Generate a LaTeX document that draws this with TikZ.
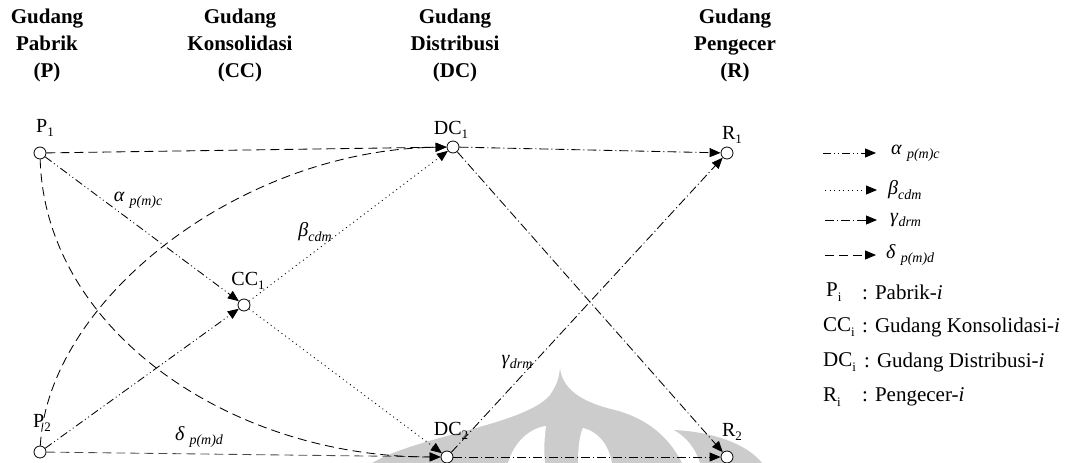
\documentclass[tikz,border=0pt]{standalone}
\usepackage{fontspec}
\setmainfont{Liberation Serif}
\usetikzlibrary{arrows.meta}

% lowered italic index used in the flow symbols
\newcommand{\flowidx}[1]{\raisebox{-0.45ex}{\fontsize{14}{14}\selectfont\itshape #1}}
% lowered upright index used in the site names
\newcommand{\siteidx}[1]{\raisebox{-0.45ex}{\fontsize{13}{13}\selectfont #1}}

\begin{document}
\begin{tikzpicture}[x=1pt,y=-1pt,
  site/.style={circle, draw, line width=0.8pt, minimum size=12pt, inner sep=0pt, fill=white},
  head/.style={font=\fontsize{21}{27}\selectfont\bfseries, align=center},
  sitename/.style={font=\fontsize{20}{22}\selectfont, inner sep=0pt},
  flowlabel/.style={font=\fontsize{20}{22}\selectfont, inner sep=0pt},
  keytext/.style={font=\fontsize{21}{24}\selectfont, inner sep=0pt, anchor=west},
  flow/.style={line width=0.85pt, -{Triangle[length=11pt,width=9pt]}},
  alphaflow/.style={flow, dash pattern=on 8pt off 3pt on 1pt off 3pt on 1pt off 3pt},
  betaflow/.style={flow, dash pattern=on 1pt off 3.5pt},
  gammaflow/.style={flow, dash pattern=on 9pt off 3pt on 1pt off 3pt},
  deltaflow/.style={flow, dash pattern=on 9pt off 5pt}]

\useasboundingbox (0,0) rectangle (1071,463);

% faint emblem in the background
\fill[black!20] (372,463) .. controls (420,435) and (525,425) .. (550,395)
  .. controls (557,385) and (559,378) .. (560,368)
  .. controls (562,388) and (580,402) .. (615,410)
  .. controls (645,418) and (668,435) .. (682,463) -- cycle;
\fill[black!20] (674,430) .. controls (715,432) and (748,445) .. (762,463)
  -- (700,463) .. controls (696,450) and (688,438) .. (674,430) -- cycle;
\fill[white] (508,463) .. controls (514,442) and (530,428) .. (546,426)
  .. controls (544,440) and (544,452) .. (545,463) -- cycle;
\fill[white] (578,463) .. controls (578,446) and (580,434) .. (583,428)
  .. controls (596,431) and (608,442) .. (612,463) -- cycle;

% column headings
\node[head] (hP)  at (47,45)  {Gudang\\Pabrik\\(P)};
\node[head] (hCC) at (240,45) {Gudang\\Konsolidasi\\(CC)};
\node[head] (hDC) at (455,45) {Gudang\\Distribusi\\(DC)};
\node[head] (hR)  at (735,45) {Gudang\\Pengecer\\(R)};

% sites
\node[site] (P1)  at (40,153)  {};
\node[site] (P2)  at (40,452)  {};
\node[site] (CC1) at (244,305) {};
\node[site] (DC1) at (453,147) {};
\node[site] (DC2) at (447,457) {};
\node[site] (R1)  at (727,153) {};
\node[site] (R2)  at (727,457) {};

\node[sitename] (P1n)  at (45,128)  {P\siteidx{1}};
\node[sitename] (P2n)  at (42,423)  {P\siteidx{2}};
\node[sitename] (CC1n) at (248,281) {CC\siteidx{1}};
\node[sitename] (DC1n) at (451,130) {DC\siteidx{1}};
\node[sitename] (DC2n) at (451,431) {DC\siteidx{2}};
\node[sitename] (R1n)  at (732,135) {R\siteidx{1}};
\node[sitename] (R2n)  at (732,432) {R\siteidx{2}};

% flows: factory to consolidation
\draw[alphaflow] (P1) -- (CC1);
\draw[alphaflow] (P2) -- (CC1);
% flows: consolidation to distribution
\draw[betaflow] (CC1) -- (DC1);
\draw[betaflow] (CC1) -- (DC2);
% flows: factory straight to distribution
\draw[deltaflow] (P1) -- (DC1);
\draw[deltaflow, black!70] (P2) -- (DC2);
\draw[deltaflow] (P1) .. controls (45,330) and (230,457) .. (DC2);
\draw[deltaflow] (P2) .. controls (48,300) and (240,150) .. (DC1);
% flows: distribution to retail
\draw[gammaflow] (DC1) -- (R1);
\draw[gammaflow] (DC1) -- (R2);
\draw[gammaflow] (DC2) -- (R1);
\draw[gammaflow] (DC2) -- (R2);

% flow labels
\node[flowlabel] (la) at (138,200) {\textit{α}\hspace{5pt}\flowidx{p(m)c}};
\node[flowlabel] (lb) at (315,232) {\textit{β}\flowidx{cdm}};
\node[flowlabel] (lg) at (517,362) {\textit{γ}\flowidx{drm}};
\node[flowlabel] (ld) at (199,437) {\textit{δ}\hspace{5pt}\flowidx{p(m)d}};

% key of flow types
\coordinate (ka1) at (823,153); \coordinate (ka2) at (876,153);
\coordinate (kb1) at (825,190); \coordinate (kb2) at (877,190);
\coordinate (kg1) at (825,220); \coordinate (kg2) at (877,220);
\coordinate (kd1) at (825,255); \coordinate (kd2) at (876,255);
\draw[alphaflow] (ka1) -- (ka2);
\draw[betaflow]  (kb1) -- (kb2);
\draw[gammaflow] (kg1) -- (kg2);
\draw[deltaflow] (kd1) -- (kd2);
\node[flowlabel, anchor=west] (ka) at (891,153) {\textit{α}\hspace{5pt}\flowidx{p(m)c}};
\node[flowlabel, anchor=west] (kb) at (888,190) {\textit{β}\flowidx{cdm}};
\node[flowlabel, anchor=west] (kg) at (890,220) {\textit{γ}\flowidx{drm}};
\node[flowlabel, anchor=west] (kd) at (886,255) {\textit{δ}\hspace{5pt}\flowidx{p(m)d}};

% key of site names
\node[keytext] (kP)   at (826,292) {P\siteidx{i}};
\node[keytext] (kPt)  at (862,292) {: Pabrik-\textit{i}};
\node[keytext] (kC)   at (823,327) {CC\siteidx{i}};
\node[keytext] (kCt)  at (862,327) {: Gudang Konsolidasi-\textit{i}};
\node[keytext] (kD)   at (823,362) {DC\siteidx{i}};
\node[keytext] (kDt)  at (864,362) {: Gudang Distribusi-\textit{i}};
\node[keytext] (kR)   at (823,397) {R\siteidx{i}};
\node[keytext] (kRt)  at (862,397) {: Pengecer-\textit{i}};

\end{tikzpicture}
\end{document}
